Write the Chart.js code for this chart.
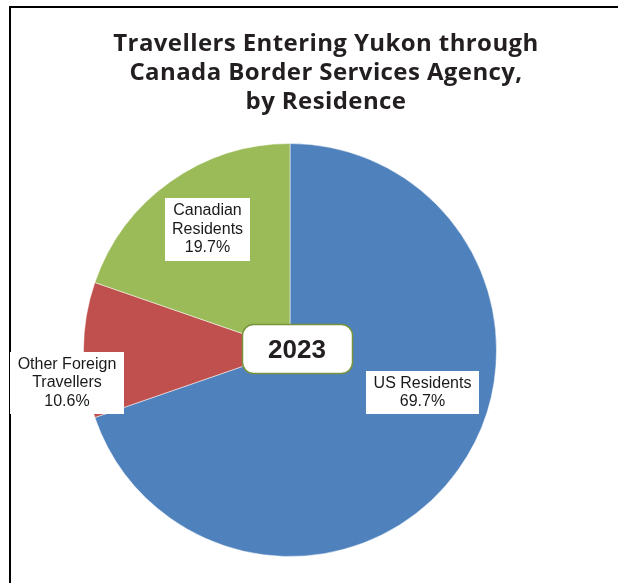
<!DOCTYPE html>
<html>
<head>
<meta charset="utf-8">
<script src="https://cdn.jsdelivr.net/npm/chart.js@4"></script>
<style>
  html, body { margin: 0; padding: 0; background: #fff; }
  #wrap { position: relative; width: 618px; height: 583px; }
</style>
</head>
<body>
<div id="wrap"><canvas id="pieChart" width="618" height="583"></canvas></div>
<script>
const titleLines = ['Travellers Entering Yukon through', 'Canada Border Services Agency,', 'by Residence'];
const categories = ['US Residents', 'Other Foreign Travellers', 'Canadian Residents'];
const shares = [69.7, 10.6, 19.7];
const sliceColors = ['#4F81BD', '#C0504D', '#9BBB59'];
const yearLabel = '2023';

// label text lines + box for each slice (box in page pixels)
const labelLines = [['US Residents', '69.7%'], ['Other Foreign', 'Travellers', '10.6%'], ['Canadian', 'Residents', '19.7%']];
const labelBoxes = [
  {x: 366, y: 371, w: 113, h: 43},
  {x: 10, y: 352, w: 114, h: 62},
  {x: 165, y: 198, w: 85, h: 63}
];

function roundRect(ctx, x, y, w, h, r) {
  ctx.beginPath();
  ctx.moveTo(x + r, y);
  ctx.arcTo(x + w, y, x + w, y + h, r);
  ctx.arcTo(x + w, y + h, x, y + h, r);
  ctx.arcTo(x, y + h, x, y, r);
  ctx.arcTo(x, y, x + w, y, r);
  ctx.closePath();
}

const frameAndTitle = {
  id: 'frameAndTitle',
  beforeDraw(chart) {
    const ctx = chart.ctx;
    ctx.save();
    ctx.fillStyle = '#000';
    ctx.fillRect(9, 6, 609, 2);
    ctx.fillRect(9, 6, 2, 577);
    ctx.fillStyle = '#231f20';
    ctx.font = 'bold 24px "Open Sans"';
    ctx.letterSpacing = '0.4px';
    ctx.textAlign = 'center';
    ctx.textBaseline = 'middle';
    titleLines.forEach((t, i) => ctx.fillText(t, 326, 44 + i * 29));
    ctx.restore();
  }
};

const sliceLabels = {
  id: 'sliceLabels',
  afterDraw(chart) {
    const ctx = chart.ctx;
    ctx.save();
    ctx.textAlign = 'center';
    ctx.textBaseline = 'middle';
    labelBoxes.forEach((b, i) => {
      ctx.fillStyle = '#fff';
      ctx.fillRect(b.x, b.y, b.w, b.h);
      ctx.fillStyle = '#1a1a1a';
      ctx.font = '16px "Liberation Sans", Arial';
      const lines = labelLines[i];
      const lh = 18.5;
      const cy = b.y + b.h / 2 - (lines.length - 1) * lh / 2;
      lines.forEach((t, j) => ctx.fillText(t, b.x + b.w / 2, cy + j * lh));
    });
    // year box in the middle
    roundRect(ctx, 242.5, 324.5, 110, 49, 11);
    ctx.fillStyle = '#fff';
    ctx.fill();
    ctx.strokeStyle = '#77933C';
    ctx.lineWidth = 1.5;
    ctx.stroke();
    ctx.fillStyle = '#231f20';
    ctx.font = 'bold 26px "Liberation Sans", Arial';
    ctx.fillText(yearLabel, 297, 351);
    ctx.restore();
  }
};

new Chart(document.getElementById('pieChart').getContext('2d'), {
  type: 'pie',
  data: {
    labels: categories,
    datasets: [{data: shares, backgroundColor: sliceColors, borderColor: 'rgba(255,255,255,0.5)', borderWidth: 1}]
  },
  options: {
    responsive: false,
    animation: false,
    layout: {padding: {left: 83, right: 121, top: 143, bottom: 26}},
    plugins: {legend: {display: false}, tooltip: {enabled: false}, title: {display: false}}
  },
  plugins: [frameAndTitle, sliceLabels]
});
</script>
</body>
</html>
